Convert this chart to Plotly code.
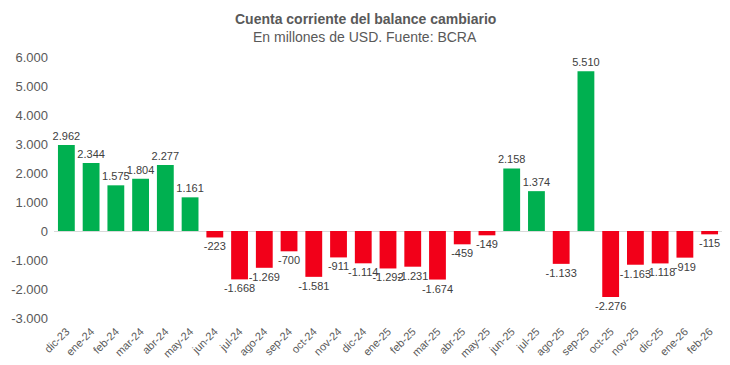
import plotly.graph_objects as go

categories = ["dic-23", "ene-24", "feb-24", "mar-24", "abr-24", "may-24", "jun-24", "jul-24",
              "ago-24", "sep-24", "oct-24", "nov-24", "dic-24", "ene-25", "feb-25", "mar-25",
              "abr-25", "may-25", "jun-25", "jul-25", "ago-25", "sep-25", "oct-25", "nov-25",
              "dic-25", "ene-26", "feb-26"]
values = [2962, 2344, 1575, 1804, 2277, 1161, -223, -1668, -1269, -700, -1581, -911, -1114,
          -1292, -1231, -1674, -459, -149, 2158, 1374, -1133, 5510, -2276, -1163, -1118, -919, -115]
ytick_vals = [-3000, -2000, -1000, 0, 1000, 2000, 3000, 4000, 5000, 6000]


def fmt(v):
    s = f"{abs(v):,}".replace(",", ".")
    return ("-" if v < 0 else "") + s


colors = ["#00B050" if v >= 0 else "#F20019" for v in values]

fig = go.Figure(go.Bar(
    x=categories, y=values,
    marker=dict(color=colors, line=dict(width=0)),
    text=[fmt(v) for v in values],
    textposition="outside",
    constraintext="none",
    cliponaxis=False,
    textfont=dict(size=11, color="#404040"),
    width=0.68,
))

# page body has an 8px margin; compensate so the plot lands where the reference has it
OFF = 8
W, H = 730, 365
L, R, T, B = 54 - OFF, 16, 57 - OFF, 55
PH = H - T - B
PW = W - L - R

fig.update_layout(
    width=W, height=H,
    margin=dict(l=L, r=R, t=T, b=B),
    plot_bgcolor="white", paper_bgcolor="white",
    font=dict(family="Liberation Sans, Arial, sans-serif", color="#595959"),
    showlegend=False,
)
cx = (365 - OFF - L) / PW
fig.add_annotation(text="<b>Cuenta corriente del balance cambiario</b>", xref="paper", yref="paper",
                   x=cx, y=1 + (T - (19 - OFF)) / PH, showarrow=False,
                   font=dict(size=14, color="#595959"), yanchor="middle")
fig.add_annotation(text="En millones de USD. Fuente: BCRA", xref="paper", yref="paper",
                   x=cx, y=1 + (T - (37 - OFF)) / PH, showarrow=False,
                   font=dict(size=14, color="#595959"), yanchor="middle")

fig.update_yaxes(range=[-3000, 6000], tickvals=ytick_vals, ticktext=[fmt(v) for v in ytick_vals],
                 showgrid=False, zeroline=True, zerolinecolor="#D9D9D9", zerolinewidth=1,
                 tickfont=dict(size=13, color="#595959"), ticks="", showline=False,
                 ticklabelstandoff=5, automargin=False)
fig.update_xaxes(range=[-0.5, 26.5], tickangle=-45, tickfont=dict(size=11, color="#595959"),
                 showgrid=False, showline=False, ticks="", ticklabelstandoff=4,
                 automargin=False)

fig.write_html("out.html")
